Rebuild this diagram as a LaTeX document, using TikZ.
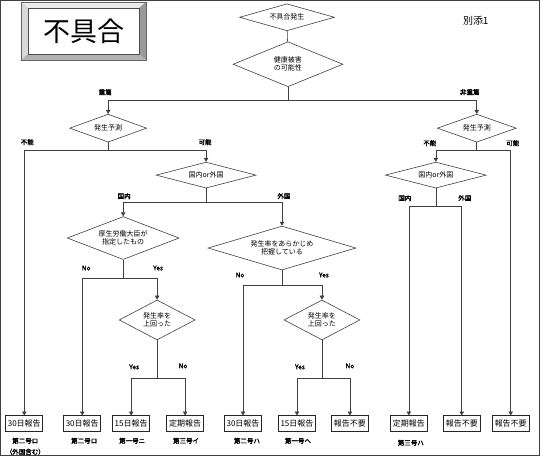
\documentclass[tikz,border=0pt]{standalone}
\usepackage{fontspec}
\setmainfont{Noto Sans CJK JP}
\newfontfamily\jpb[FakeBold=2]{Noto Sans CJK JP}
\usetikzlibrary{shapes.geometric,arrows.meta}
\begin{document}
\begin{tikzpicture}[x=1pt,y=-1pt,
  line width=0.6pt,
  every path/.style={draw=black!75},
  dia/.style={diamond,draw=black!75,line width=0.6pt,aspect=#1,inner sep=0pt,font=\fontsize{7}{8}\selectfont,align=center},
  dia/.default=3,
  rbox/.style={draw=black!85,line width=0.7pt,minimum width=37pt,minimum height=16pt,inner sep=0pt,font=\fontsize{8}{9}\selectfont},
  lab/.style={font=\jpb\fontsize{6.5}{7.5}\selectfont,inner sep=0pt},
  arr/.style={-{Triangle[length=4pt,width=4.5pt]}}
]
\useasboundingbox (0,0) rectangle (540,455);
% title box
\fill[black!12] (21,2) rectangle (146,60);
\fill[black!8] (21,2) -- (146,2) -- (139,8) -- (28,8) -- cycle;
\fill[black!15] (21,2) -- (28,8) -- (28,54) -- (21,60) -- cycle;
\fill[black!40] (146,2) -- (146,60) -- (139,54) -- (139,8) -- cycle;
\fill[black!30] (21,60) -- (146,60) -- (139,54) -- (28,54) -- cycle;
\draw[black!60] (21,2) rectangle (146,60);
\node[draw=black!70,fill=white,minimum width=111pt,minimum height=46pt,inner sep=0pt,font=\fontsize{27}{27}\selectfont] (title) at (83.5,31) {不具合};
\node[font=\fontsize{10}{12}\selectfont] (bt) at (476,20) {別添1};

% diamonds
\node[dia, minimum width=95pt, minimum height=27pt] (d1) at (287,17) {不具合発生};
\node[dia, minimum width=110pt, minimum height=45pt] (d2) at (288,64) {健康被害\\の可能性};
\node[dia, minimum width=77pt, minimum height=28pt] (pL) at (108,128) {発生予測};
\node[dia, minimum width=79pt, minimum height=28pt] (pR) at (477,128) {発生予測};
\node[dia, minimum width=100pt, minimum height=26pt] (kM) at (206,175) {国内or外国};
\node[dia, minimum width=101pt, minimum height=26pt] (kR) at (436,175) {国内or外国};
\node[dia, minimum width=112pt, minimum height=43pt] (mh) at (123,238) {厚生労働大臣が\\指定したもの};
\node[dia, minimum width=148pt, minimum height=44pt] (hr) at (282,248) {発生率をあらかじめ\\把握している};
\node[dia, minimum width=76pt, minimum height=40pt] (u1) at (157,320) {発生率を\\上回った};
\node[dia, minimum width=76pt, minimum height=40pt] (u2) at (322,320) {発生率を\\上回った};

% boxes
\node[rbox] (b1) at (24,424) {30日報告};
\node[rbox] (b2) at (82,424) {30日報告};
\node[rbox] (b3) at (131,424) {15日報告};
\node[rbox] (b4) at (185,424) {定期報告};
\node[rbox] (b5) at (243,424) {30日報告};
\node[rbox] (b6) at (297,424) {15日報告};
\node[rbox] (b7) at (350,424) {報告不要};
\node[rbox] (b8) at (409,424) {定期報告};
\node[rbox] (b9) at (462,424) {報告不要};
\node[rbox] (b10) at (511,424) {報告不要};

% coordinates
\coordinate (j1) at (288,100);
\coordinate (jL) at (108,150);
\coordinate (jR) at (477,150);
\coordinate (jM) at (206,202);
\coordinate (jR2) at (436,206);
\coordinate (jmh) at (123,278);
\coordinate (jhr) at (282,285);
\coordinate (ju1) at (157,378);
\coordinate (ju2) at (322,378);

% connectors
\draw (d1) -- (d2);
\draw (d2) -- (j1);
\draw[arr] (j1) -| (pL);
\draw[arr] (j1) -| (pR);
\draw (pL) -- (jL);
\draw[arr] (jL) -| (b1);
\draw[arr] (jL) -| (kM);
\draw (kM) -- (jM);
\draw[arr] (jM) -| (mh);
\draw[arr] (jM) -| (hr);
\draw (mh) -- (jmh);
\draw[arr] (jmh) -| (b2);
\draw[arr] (jmh) -| (u1);
\draw (u1) -- (ju1);
\draw[arr] (ju1) -| (b3);
\draw[arr] (ju1) -| (b4);
\draw (hr) -- (jhr);
\draw[arr] (jhr) -| (b5);
\draw[arr] (jhr) -| (u2);
\draw (u2) -- (ju2);
\draw[arr] (ju2) -| (b6);
\draw[arr] (ju2) -| (b7);
\draw (pR) -- (jR);
\draw[arr] (jR) -| (kR);
\draw[arr] (jR) -| (b10);
\draw (kR) -- (jR2);
\draw[arr] (jR2) -| (b8);
\draw[arr] (jR2) -| (b9);

% labels
\node[lab] (l1) at (105,92) {重篤};
\node[lab] (l2) at (470,92) {非重篤};
\node[lab] (l3) at (27,142) {不能};
\node[lab] (l4) at (205,142) {可能};
\node[lab] (l5) at (430,143) {不能};
\node[lab] (l6) at (513,143) {可能};
\node[lab] (l7) at (124,196) {国内};
\node[lab] (l8) at (284,196) {外国};
\node[lab] (l9) at (405,198) {国内};
\node[lab] (l10) at (465,198) {外国};
\node[lab] (l11) at (86,268) {No};
\node[lab] (l12) at (158,268) {Yes};
\node[lab] (l13) at (240,275) {No};
\node[lab] (l14) at (324,275) {Yes};
\node[lab] (l15) at (134,367) {Yes};
\node[lab] (l16) at (183,366) {No};
\node[lab] (l17) at (300,367) {Yes};
\node[lab] (l18) at (350,366) {No};
\node[lab] (n1) at (25,441) {第二号ロ};
\node[lab] (n2) at (25,452) {（外国含む）};
\node[lab] (n3) at (84,441) {第二号ロ};
\node[lab] (n4) at (132,441) {第一号ニ};
\node[lab] (n5) at (186,441) {第三号イ};
\node[lab] (n6) at (247,441) {第二号ハ};
\node[lab] (n7) at (298,441) {第一号ヘ};
\node[lab] (n8) at (411,443) {第三号ハ};
\end{tikzpicture}
\end{document}
